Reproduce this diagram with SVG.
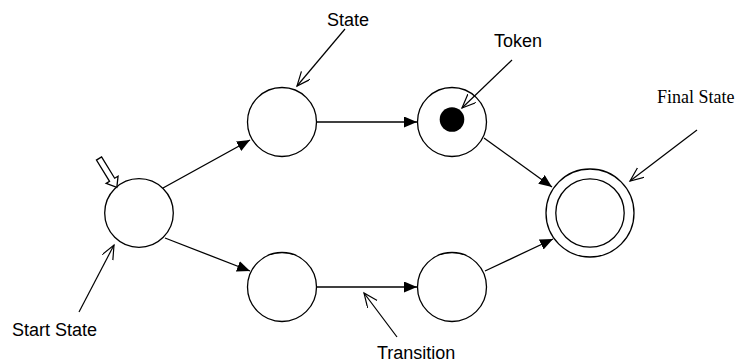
<svg xmlns="http://www.w3.org/2000/svg" width="736" height="362" viewBox="0 0 736 362">
<defs>
<style>
.n{fill:#fff;stroke:#000;stroke-width:1.3}
.c{fill:none;stroke:#000;stroke-width:1.3}
.a{fill:none;stroke:#000;stroke-width:1.2}
.t{font-family:"Liberation Sans",Arial,sans-serif;font-size:18px;fill:#000}
.ts{font-family:"Liberation Serif","Times New Roman",serif;font-size:18px;fill:#000}
</style>
<marker id="fa" markerUnits="userSpaceOnUse" markerWidth="14" markerHeight="12" refX="13" refY="5.5" orient="auto">
<path d="M0,0 L13,5.5 L0,11 z" fill="#000"/>
</marker>
<marker id="oa" markerUnits="userSpaceOnUse" markerWidth="16" markerHeight="14" refX="14" refY="6" orient="auto">
<path d="M0,0 L14,6 L0,12" fill="none" stroke="#000" stroke-width="1.2"/>
</marker>
</defs>
<rect width="736" height="362" fill="#fff"/>
<g id="connectors">
<line class="c" x1="163" y1="188" x2="250" y2="140" marker-end="url(#fa)"/>
<line class="c" x1="165" y1="238" x2="250" y2="271" marker-end="url(#fa)"/>
<line class="c" x1="316" y1="122" x2="417" y2="122" marker-end="url(#fa)"/>
<line class="c" x1="316" y1="287" x2="417" y2="287" marker-end="url(#fa)"/>
<line class="c" x1="484" y1="138" x2="552" y2="187" marker-end="url(#fa)"/>
<line class="c" x1="485" y1="271" x2="553" y2="239" marker-end="url(#fa)"/>
</g>
<g id="start">
<circle class="n" cx="139" cy="213" r="34.3"/>
<polygon class="n" points="0,-3 25,-3 25,-7 34,0 25,7 25,3 0,3" transform="translate(99,158.5) rotate(58.4)"/>
</g>
<g id="state-top">
<circle class="n" cx="282" cy="122" r="34.5"/>
</g>
<g id="token-state">
<circle class="n" cx="452" cy="122" r="34.5"/>
<circle cx="452" cy="119.5" r="12.3" fill="#000"/>
</g>
<g id="state-bottom-left">
<circle class="n" cx="282" cy="287" r="34.5"/>
</g>
<g id="state-bottom-right">
<circle class="n" cx="452" cy="287" r="34.5"/>
</g>
<g id="final-state">
<circle class="n" cx="590" cy="213" r="44"/>
<circle class="n" cx="590" cy="213" r="34.2"/>
</g>
<g id="annotations">
<line class="a" x1="345" y1="29" x2="297" y2="86" marker-end="url(#oa)"/>
<text class="t" x="327" y="26">State</text>
<line class="a" x1="512" y1="60" x2="462" y2="108" marker-end="url(#oa)"/>
<text class="t" x="494" y="47">Token</text>
<line class="a" x1="697" y1="130" x2="630" y2="181" marker-end="url(#oa)"/>
<text class="ts" x="657" y="103">Final State</text>
<line class="a" x1="79" y1="312" x2="114" y2="245" marker-end="url(#oa)"/>
<text class="t" x="12" y="336">Start State</text>
<line class="a" x1="397" y1="337" x2="364" y2="293" marker-end="url(#oa)"/>
<text class="t" x="377" y="359">Transition</text>
</g>
</svg>
